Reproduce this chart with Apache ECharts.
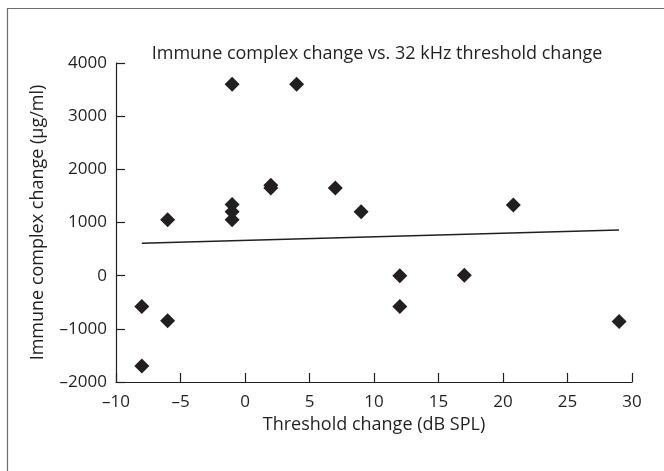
<!DOCTYPE html>
<html>
<head>
<meta charset="utf-8">
<script src="https://cdn.jsdelivr.net/npm/echarts@6/dist/echarts.min.js"></script>
<style>html,body{margin:0;padding:0;background:#fff;}#c{width:664px;height:471px;}</style>
</head>
<body>
<div id="c"></div>
<script>
var thresholdChange = [-8, -8, -6, -6, -1, -1, -1, -1, 2, 2, 4, 7, 9, 12, 12, 17, 20.8, 29];
var immuneChange = [-580, -1700, 1050, -850, 3600, 1340, 1200, 1050, 1700, 1650, 3600, 1650, 1200, 0, -580, 10, 1330, -860];
var fitX = [-8, 29];
var fitY = [610, 860];
var xTicks = [-10, -5, 0, 5, 10, 15, 20, 25, 30];
var yTicks = [-2000, -1000, 0, 1000, 2000, 3000, 4000];

var FONT = '"Open Sans", sans-serif';
var INK = '#231f20';
function fmt(v) { return v < 0 ? '\u2013' + Math.abs(v) : String(v); }

var chart = echarts.init(document.getElementById('c'), null, {renderer: 'canvas'});
chart.setOption({
  animation: false,
  backgroundColor: '#fff',
  graphic: [{
    type: 'rect', left: 5, top: 6, silent: true,
    shape: {width: 700, height: 500},
    style: {fill: 'none', stroke: '#6d6d6d', lineWidth: 1.2}
  }],
  title: {
    text: 'Immune complex change vs. 32 kHz threshold change',
    left: 372, top: 40, textAlign: 'center',
    textStyle: {fontFamily: FONT, fontSize: 18, fontWeight: 'normal', color: INK}
  },
  grid: {left: 116, top: 63, right: 32, bottom: 89},
  xAxis: {
    type: 'value', min: xTicks[0], max: xTicks[xTicks.length - 1], interval: 5,
    name: 'Threshold change (dB SPL)', nameLocation: 'middle', nameGap: 34,
    nameTextStyle: {fontFamily: FONT, fontSize: 18, color: INK},
    axisLine: {onZero: false, lineStyle: {color: INK, width: 1.2}},
    axisTick: {inside: true, length: 9, lineStyle: {color: INK, width: 1.2}},
    axisLabel: {fontFamily: FONT, fontSize: 17, color: INK, margin: 12, formatter: fmt},
    splitLine: {show: false}
  },
  yAxis: {
    type: 'value', min: yTicks[0], max: yTicks[yTicks.length - 1], interval: 1000,
    name: 'Immune complex change (\u00b5g/ml)', nameLocation: 'middle', nameGap: 69,
    nameTextStyle: {fontFamily: FONT, fontSize: 18, color: INK},
    axisLine: {onZero: false, lineStyle: {color: INK, width: 1.2}},
    axisTick: {inside: true, length: 9, lineStyle: {color: INK, width: 1.2}},
    axisLabel: {fontFamily: FONT, fontSize: 17, color: INK, margin: 9, formatter: fmt},
    splitLine: {show: false}
  },
  series: [{
    type: 'line', data: fitX.map(function (x, i) { return [x, fitY[i]]; }),
    showSymbol: false, symbol: 'none', lineStyle: {color: INK, width: 1.5}, z: 2
  }, {
    type: 'scatter', symbol: 'diamond', symbolSize: 15,
    data: thresholdChange.map(function (x, i) { return [x, immuneChange[i]]; }),
    itemStyle: {color: INK, opacity: 1}, z: 3
  }]
});
</script>
</body>
</html>
